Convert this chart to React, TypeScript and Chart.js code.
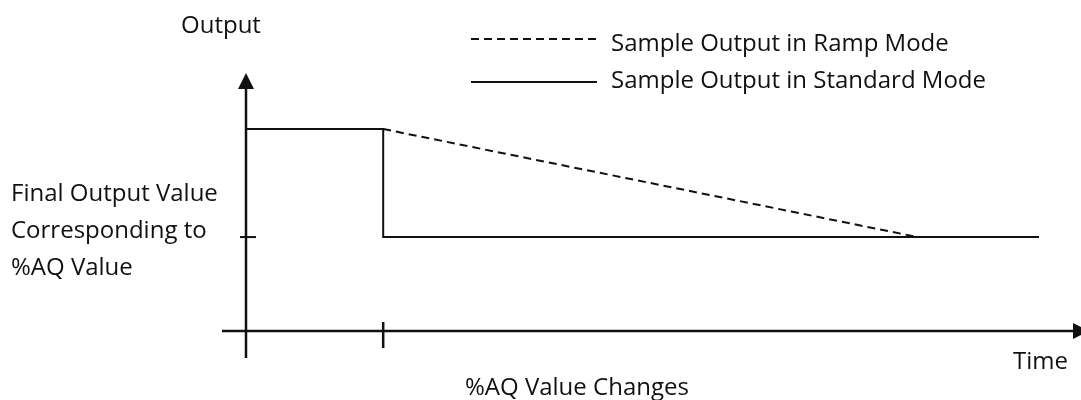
import React, { useEffect, useRef } from "react";
import { Chart, registerables } from "chart.js";

Chart.register(...registerables);

// Time axis runs 0..100 (arbitrary units), output axis 0..100 (% of span)
const timeStandard = [0, 17.3, 17.3, 100];
const outputStandard = [100, 100, 46.5, 46.5];
const timeRamp = [17.3, 84.7];
const outputRamp = [100, 46.5];

const seriesLabels = ["Sample Output in Ramp Mode", "Sample Output in Standard Mode"];
const yAxisTitle = "Output";
const xAxisTitle = "Time";
const yTickLabel = ["Final Output Value", "Corresponding to", "%AQ Value"];
const xTickLabel = "%AQ Value Changes";
const changeTime = 17.3;
const finalOutput = 46.5;

const FONT = '24px "Open Sans"';
const INK = "#111111";

const diagramPlugin = {
  id: "diagram",
  afterDraw(chart: any) {
    const ctx = chart.ctx as CanvasRenderingContext2D;
    const xs = chart.scales.x;
    const ys = chart.scales.y;
    const x0 = xs.getPixelForValue(0);
    const y0 = ys.getPixelForValue(0);
    const top = ys.getPixelForValue(100);
    ctx.save();
    ctx.strokeStyle = INK;
    ctx.fillStyle = INK;
    ctx.lineCap = "butt";

    // vertical axis
    ctx.lineWidth = 2.5;
    ctx.beginPath();
    ctx.moveTo(x0, y0 + 27);
    ctx.lineTo(x0, top - 42);
    ctx.stroke();
    ctx.beginPath();
    ctx.moveTo(x0, top - 56);
    ctx.lineTo(x0 - 8, top - 40);
    ctx.lineTo(x0 + 8, top - 40);
    ctx.closePath();
    ctx.fill();

    // horizontal axis
    ctx.beginPath();
    ctx.moveTo(x0 - 24, y0);
    ctx.lineTo(xs.right + 36, y0);
    ctx.stroke();
    ctx.beginPath();
    ctx.moveTo(xs.right + 50, y0);
    ctx.lineTo(xs.right + 34, y0 - 8);
    ctx.lineTo(xs.right + 34, y0 + 8);
    ctx.closePath();
    ctx.fill();

    // ticks
    const ty = ys.getPixelForValue(finalOutput);
    ctx.lineWidth = 2;
    ctx.beginPath();
    ctx.moveTo(x0 - 6, ty);
    ctx.lineTo(x0 + 10, ty);
    ctx.stroke();
    const tx = xs.getPixelForValue(changeTime);
    ctx.lineWidth = 2.5;
    ctx.beginPath();
    ctx.moveTo(tx, y0 - 9);
    ctx.lineTo(tx, y0 + 17);
    ctx.stroke();

    // legend
    const ds = chart.data.datasets;
    const legendY = [39, 82];
    const textBase = [51, 88];
    ctx.font = FONT;
    ctx.textBaseline = "alphabetic";
    ctx.textAlign = "left";
    for (let i = 0; i < 2; i++) {
      const d = ds[i];
      ctx.lineWidth = 2;
      ctx.setLineDash(d.borderDash || []);
      ctx.beginPath();
      ctx.moveTo(471, legendY[i]);
      ctx.lineTo(597, legendY[i]);
      ctx.stroke();
      ctx.setLineDash([]);
      ctx.fillText(d.label, 611, textBase[i]);
    }

    // texts
    ctx.fillText(yAxisTitle, 181, 33);
    ctx.fillText(xAxisTitle, 1013, 369);
    const lbY = [201, 238, 275];
    yTickLabel.forEach((t, i) => ctx.fillText(t, 11, lbY[i]));
    ctx.fillText(xTickLabel, 465, 395);
    ctx.restore();
  },
};

export default function App() {
  const ref = useRef<HTMLCanvasElement>(null);
  useEffect(() => {
    document.body.style.margin = "0";
    let chart: Chart | null = null;
    let cancelled = false;
    const make = () => {
      if (cancelled || !ref.current) return;
      chart = new Chart(ref.current, {
        type: "line",
        data: {
          datasets: [
            {
              label: seriesLabels[0],
              data: timeRamp.map((t, i) => ({ x: t, y: outputRamp[i] })),
              borderColor: INK,
              borderWidth: 2,
              borderDash: [8, 5],
              pointRadius: 0,
              fill: false,
              clip: false as any,
              tension: 0,
            },
            {
              label: seriesLabels[1],
              data: timeStandard.map((t, i) => ({ x: t, y: outputStandard[i] })),
              borderColor: INK,
              borderWidth: 2,
              pointRadius: 0,
              fill: false,
              clip: false as any,
              tension: 0,
            },
          ],
        },
        options: {
          responsive: false,
          animation: false,
          events: [],
          layout: { padding: { left: 246, right: 42, top: 129, bottom: 69 } },
          scales: {
            x: { type: "linear", min: 0, max: 100, display: false },
            y: { type: "linear", min: 0, max: 100, display: false },
          },
          plugins: { legend: { display: false }, tooltip: { enabled: false } },
        },
        plugins: [diagramPlugin],
      });
    };
    const fonts: any = (document as any).fonts;
    if (fonts && fonts.load) {
      fonts.load(FONT).then(make, make);
    } else make();
    return () => {
      cancelled = true;
      if (chart) chart.destroy();
    };
  }, []);
  return (
    <div style={{ position: "absolute", left: 0, top: 0, width: 1081, height: 400, background: "#fff" }}>
      <canvas ref={ref} width={1081} height={400} style={{ display: "block" }} />
    </div>
  );
}
